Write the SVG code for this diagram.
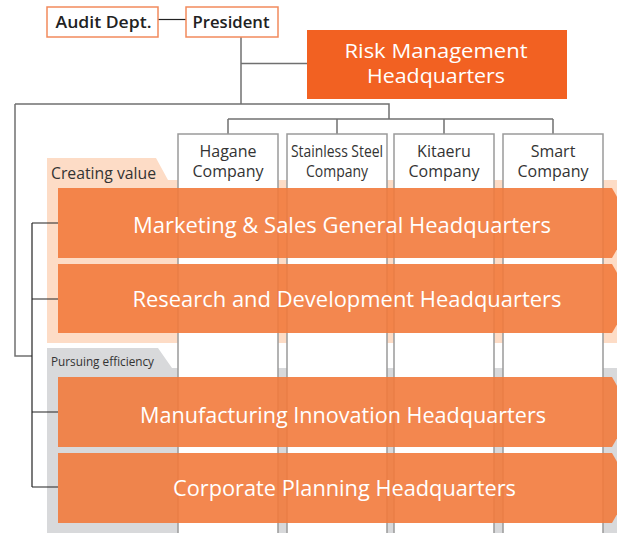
<svg xmlns="http://www.w3.org/2000/svg" width="617" height="533" viewBox="0 0 617 533">
  <style>
    .top { fill: #fff; stroke: #F28A5C; stroke-width: 1.5; }
    .toptxt { font-family: "Open Sans", "Noto Sans", sans-serif; font-size: 16.5px; font-weight: 600; fill: #222; }
    .col { fill: #fff; stroke: #9A9A9A; stroke-width: 1.5; }
    .coltxt { font-family: "Open Sans", "Noto Sans", sans-serif; font-size: 16px; fill: #333; text-anchor: middle; }
    .grptxt { font-family: "Open Sans", "Noto Sans", sans-serif; fill: #333; }
    .bar { fill: #F27A3C; fill-opacity: 0.9; }
    .bartxt { font-family: "Open Sans", "Noto Sans", sans-serif; font-size: 21px; fill: #fff; text-anchor: middle; }
    .risktxt { font-family: "Open Sans", "Noto Sans", sans-serif; font-size: 20px; fill: #fff; text-anchor: middle; }
    .ln { fill: none; stroke: #707070; stroke-width: 1.5; }
    .lnk { fill: none; stroke: #222; stroke-width: 1.2; }
  </style>

  <!-- group backgrounds -->
  <g id="grp-value">
    <path d="M47,158 H156 L168,180 H617 V343 H47 Z" fill="#FDDCC6"/>
    <text class="grptxt" x="51" y="179" font-size="16" textLength="105" lengthAdjust="spacingAndGlyphs">Creating value</text>
  </g>
  <g id="grp-efficiency">
    <path d="M47,348 H158 L172,368 H617 V533 H47 Z" fill="#D8D9DB"/>
    <text class="grptxt" x="51" y="366" font-size="13.5" textLength="103" lengthAdjust="spacingAndGlyphs">Pursuing efficiency</text>
  </g>

  <!-- connectors -->
  <g id="connectors">
    <line class="lnk" x1="158" y1="19.5" x2="186" y2="19.5"/>
    <path class="ln" d="M241,37 V104"/>
    <path class="ln" d="M241,63.5 H307"/>
    <path class="ln" d="M15,104 H389 V119"/>
    <path class="ln" d="M228,119 H553"/>
    <path class="ln" d="M228,119 V134 M337,119 V134 M444,119 V134 M553,119 V134"/>
    <path class="ln" d="M15,104 V356 H32"/>
    <path class="lnk" d="M32,223 V487"/>
    <path class="lnk" d="M32,223 H58 M32,299 H58 M32,412 H58 M32,487 H58"/>
  </g>

  <!-- top nodes -->
  <g id="audit">
    <rect class="top" x="47" y="7" width="111" height="30"/>
    <text class="toptxt" x="103.5" y="28" text-anchor="middle" textLength="96" lengthAdjust="spacingAndGlyphs">Audit Dept.</text>
  </g>
  <g id="president">
    <rect class="top" x="186" y="7" width="92" height="30"/>
    <text class="toptxt" x="231" y="28" text-anchor="middle" textLength="77" lengthAdjust="spacingAndGlyphs">President</text>
  </g>
  <g id="risk">
    <rect x="307" y="30" width="260" height="69" fill="#F26122"/>
    <text class="risktxt" x="436" y="58" textLength="183" lengthAdjust="spacingAndGlyphs">Risk Management</text>
    <text class="risktxt" x="436" y="83" textLength="138" lengthAdjust="spacingAndGlyphs">Headquarters</text>
  </g>

  <!-- company columns -->
  <g id="hagane">
    <rect class="col" x="178" y="134" width="100" height="410"/>
    <text class="coltxt" x="228" y="157">Hagane</text>
    <text class="coltxt" x="228" y="177">Company</text>
  </g>
  <g id="stainless">
    <rect class="col" x="287" y="134" width="100" height="410"/>
    <text class="coltxt" x="337" y="157" textLength="92" lengthAdjust="spacingAndGlyphs">Stainless Steel</text>
    <text class="coltxt" x="337" y="177" textLength="62" lengthAdjust="spacingAndGlyphs">Company</text>
  </g>
  <g id="kitaeru">
    <rect class="col" x="394" y="134" width="100" height="410"/>
    <text class="coltxt" x="444" y="157">Kitaeru</text>
    <text class="coltxt" x="444" y="177">Company</text>
  </g>
  <g id="smart">
    <rect class="col" x="503" y="134" width="100" height="410"/>
    <text class="coltxt" x="553" y="157">Smart</text>
    <text class="coltxt" x="553" y="177">Company</text>
  </g>

  <!-- function headquarters bars -->
  <g id="marketing">
    <path class="bar" d="M58,188 H612 L632,223 L612,258 H58 Z"/>
    <text class="bartxt" x="342" y="233" textLength="418" lengthAdjust="spacingAndGlyphs">Marketing &amp; Sales General Headquarters</text>
  </g>
  <g id="research">
    <path class="bar" d="M58,264 H612 L632,298.5 L612,333 H58 Z"/>
    <text class="bartxt" x="347" y="307" textLength="429" lengthAdjust="spacingAndGlyphs">Research and Development Headquarters</text>
  </g>
  <g id="manufacturing">
    <path class="bar" d="M58,377 H612 L632,412 L612,447 H58 Z"/>
    <text class="bartxt" x="343" y="423" textLength="406" lengthAdjust="spacingAndGlyphs">Manufacturing Innovation Headquarters</text>
  </g>
  <g id="planning">
    <path class="bar" d="M58,453 H612 L632,488 L612,523 H58 Z"/>
    <text class="bartxt" x="344.5" y="496" textLength="343" lengthAdjust="spacingAndGlyphs">Corporate Planning Headquarters</text>
  </g>
</svg>
